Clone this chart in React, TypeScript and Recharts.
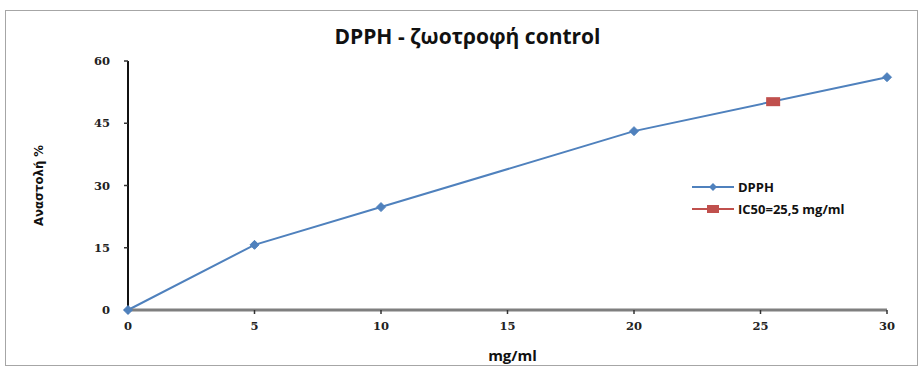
import React from 'react';
import {
  LineChart,
  Line,
  XAxis,
  YAxis,
  Label,
} from 'recharts';

const concentrations = [0, 5, 10, 20, 30];
const inhibition = [0, 15.7, 24.8, 43.1, 56.1];
const ic50X = [25.5];
const ic50Y = [50.2];
const xTicks = [0, 5, 10, 15, 20, 25, 30];
const yTicks = [0, 15, 30, 45, 60];
const seriesNames = ['DPPH', 'IC50=25,5 mg/ml'];

const dpphData = concentrations.map((x, i) => ({ x, y: inhibition[i] }));
const icData = ic50X.map((x, i) => ({ x, y: ic50Y[i] }));

const BLUE = '#4F81BD';
const RED = '#C0504D';

const Diamond = (props: any) => {
  const { cx, cy, index } = props;
  if (cx == null || cy == null) return null;
  const r = 4.5;
  return (
    <polygon
      key={`d-${index}`}
      points={`${cx},${cy - r} ${cx + r},${cy} ${cx},${cy + r} ${cx - r},${cy}`}
      fill={BLUE}
      stroke={BLUE}
    />
  );
};

const Square = (props: any) => {
  const { cx, cy, index } = props;
  if (cx == null || cy == null) return null;
  return (
    <rect key={`s-${index}`} x={cx - 7} y={cy - 4.5} width={14} height={9} fill={RED} />
  );
};

const tickStyle = { fontFamily: 'DejaVu Serif, serif', fontWeight: 700, fontSize: 11.5, fill: '#222' };

export default function App() {
  return (
    <div style={{ position: 'absolute', left: 0, top: 0, width: 919, height: 367, background: '#fff' }}>
      <div
        style={{
          position: 'absolute',
          left: 5,
          top: 10,
          width: 913,
          height: 356,
          border: '1px solid #a6a6a6',
          boxSizing: 'border-box',
        }}
      />
      <div
        style={{
          position: 'absolute',
          left: 0,
          top: 22,
          width: 935,
          textAlign: 'center',
          fontFamily: 'Open Sans, sans-serif',
          fontWeight: 700,
          fontSize: 21,
          color: '#111',
        }}
      >
        DPPH - ζωοτροφή control
      </div>
      <LineChart
        width={919}
        height={367}
        margin={{ top: 61, right: 32, bottom: 0, left: 0 }}
        style={{ position: 'absolute', left: 0, top: 0 }}
      >
        <XAxis
          dataKey="x"
          type="number"
          domain={[0, 30]}
          ticks={xTicks}
          axisLine={{ stroke: '#7f7f7f', strokeWidth: 3 }}
          tickLine={{ stroke: '#333', strokeWidth: 1.5 }}
          tickSize={4}
          tickMargin={8}
          tick={tickStyle}
          height={57}
        >
          <Label
            value="mg/ml"
            position="insideBottom"
            offset={0}
            dx={5}
            dy={-6}
            style={{ fontFamily: 'Open Sans, sans-serif', fontWeight: 700, fontSize: 15, fill: '#111' }}
          />
        </XAxis>
        <YAxis
          type="number"
          domain={[0, 60]}
          ticks={yTicks}
          width={128}
          axisLine={{ stroke: '#111', strokeWidth: 2 }}
          tickLine={{ stroke: '#333', strokeWidth: 1.5 }}
          tickSize={4}
          tickMargin={14}
          tick={tickStyle}
        >
          <Label
            value="Αναστολή %"
            angle={-90}
            position="insideLeft"
            offset={38}
            style={{
              textAnchor: 'middle',
              fontFamily: 'DejaVu Sans Condensed, DejaVu Sans, sans-serif',
              fontWeight: 700,
              fontSize: 13,
              fill: '#111',
            }}
          />
        </YAxis>
        <Line
          data={dpphData}
          dataKey="y"
          name={seriesNames[0]}
          stroke={BLUE}
          strokeWidth={2}
          dot={<Diamond />}
          isAnimationActive={false}
        />
        <Line
          data={icData}
          dataKey="y"
          name={seriesNames[1]}
          stroke={RED}
          strokeWidth={2}
          dot={<Square />}
          isAnimationActive={false}
        />
      </LineChart>
      <div
        style={{
          position: 'absolute',
          left: 692,
          top: 176,
          fontFamily: 'Open Sans, sans-serif',
          fontWeight: 700,
          fontSize: 13,
          color: '#111',
        }}
      >
        {seriesNames.map((name, i) => (
          <div key={name} style={{ display: 'flex', alignItems: 'center', height: 22 }}>
            <svg width={42} height={12} style={{ marginRight: 4 }}>
              <line x1={0} y1={6} x2={42} y2={6} stroke={i ? RED : BLUE} strokeWidth={2} />
              {i ? (
                <rect x={15} y={2} width={12} height={8} fill={RED} />
              ) : (
                <polygon points="21,2 25,6 21,10 17,6" fill={BLUE} />
              )}
            </svg>
            <span>{name}</span>
          </div>
        ))}
      </div>
    </div>
  );
}
